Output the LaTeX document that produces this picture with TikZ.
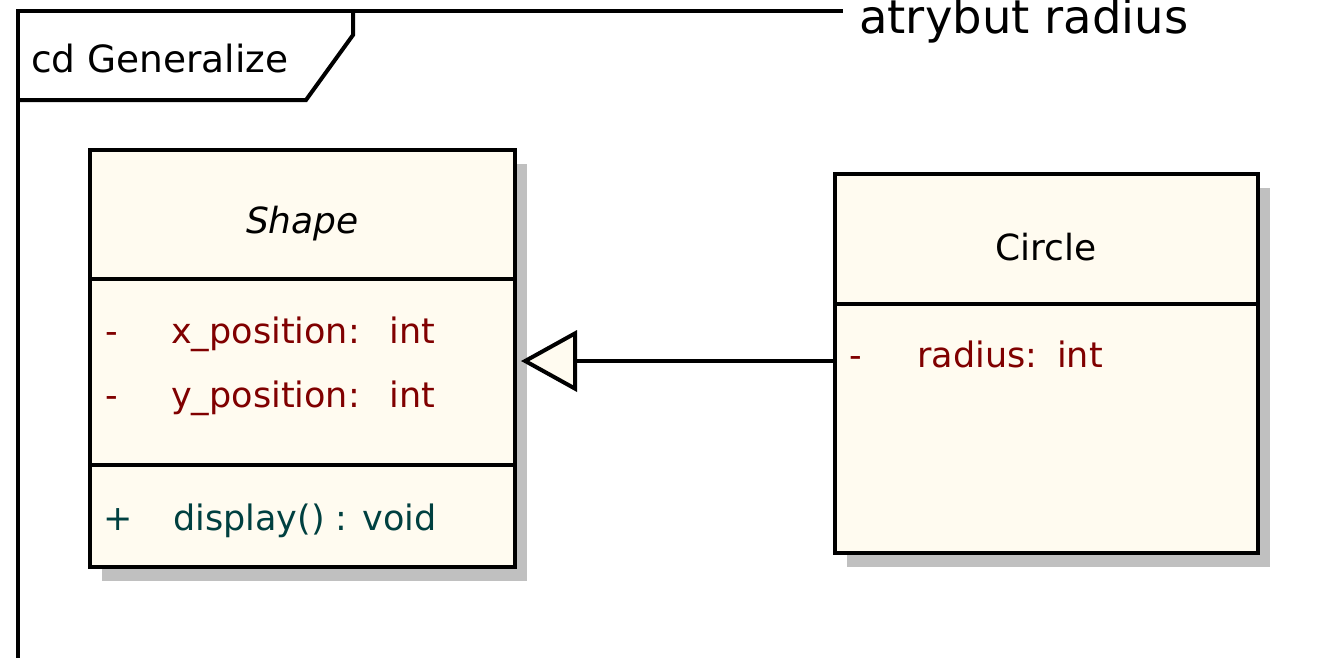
\documentclass[tikz,border=0pt]{standalone}
\usepackage{fontspec}
\setmainfont{DejaVu Sans}
\usepackage{tikz}
\usetikzlibrary{arrows.meta,calc,shadows}
\definecolor{umlFill}{RGB}{255,251,240}
\definecolor{umlShadow}{RGB}{192,192,192}
\definecolor{attrRed}{RGB}{128,0,0}
\definecolor{methTeal}{RGB}{0,64,64}

\begin{document}
\begin{tikzpicture}[x=1pt,y=-1pt,
  classbox/.style={draw,line width=4pt,fill=umlFill,rectangle,inner sep=0pt,outer sep=0pt,
    drop shadow={shadow xshift=12pt,shadow yshift=-14pt,fill=umlShadow,opacity=1}},
  rule/.style={line width=4pt},
  member/.style={anchor=base west,inner sep=0pt,font=\fontsize{35}{40}\selectfont},
  title/.style={anchor=base,inner sep=0pt,font=\fontsize{36}{40}\selectfont}]
  \useasboundingbox (0,0) rectangle (1317,657);
  % frame
  \node[anchor=base west,inner sep=0pt,font=\fontsize{46.5}{52}\selectfont] (noteText) at (859,33) {atrybut radius};
  \coordinate (frameEnd) at (843,11);
  \draw[rule] (18,660) |- (frameEnd);
  \draw[rule] (353,11) -- (353,35) -- (306,100) -- (18,100);
  \node[anchor=base west,inner sep=0pt,font=\fontsize{37.5}{40}\selectfont] (frameTitle) at (31,72) {cd Generalize};
  % class Shape
  \node[classbox,minimum width=425pt,minimum height=417pt,anchor=north west] (shapeCls) at (90,150) {};
  \draw[rule] ($(shapeCls.north west)+(0,129)$) -- ($(shapeCls.north east)+(0,129)$);
  \draw[rule] ($(shapeCls.north west)+(0,315)$) -- ($(shapeCls.north east)+(0,315)$);
  \node[title] (shapeName) at ($(shapeCls.north)+(0,83)$) {\itshape Shape};
  \node[member,text=attrRed] (xVis) at (105,343) {-};
  \node[member,text=attrRed] (xAttr) at (171,343) {x\_position:\hspace{30pt}int};
  \node[member,text=attrRed] (yVis) at (105,407) {-};
  \node[member,text=attrRed] (yAttr) at (171,407) {y\_position:\hspace{30pt}int};
  \node[member,text=methTeal] (dispVis) at (103.5,530) {+};
  \node[member,text=methTeal] (dispOp) at (173,530) {display() : void};
  % class Circle
  \node[classbox,minimum width=423.5pt,minimum height=379pt,anchor=north west] (circleCls) at (834.5,174) {};
  \draw[rule] ($(circleCls.north west)+(0,130)$) -- ($(circleCls.north east)+(0,130)$);
  \node[title] (circleName) at ($(circleCls.north)+(0,86)$) {Circle};
  \node[member,text=attrRed] (rVis) at (849,367) {-};
  \node[member,text=attrRed] (rAttr) at (917,367) {radius:\hspace{20pt}int};
  % generalization
  \coordinate (genEnd) at ($(circleCls.west)+(0,-2.5)$);
  \draw[rule,-{Triangle[length=56pt,width=61pt,fill=umlFill]},shorten >=6pt]
    (genEnd) -- (genEnd -| shapeCls.east);
\end{tikzpicture}
\end{document}
